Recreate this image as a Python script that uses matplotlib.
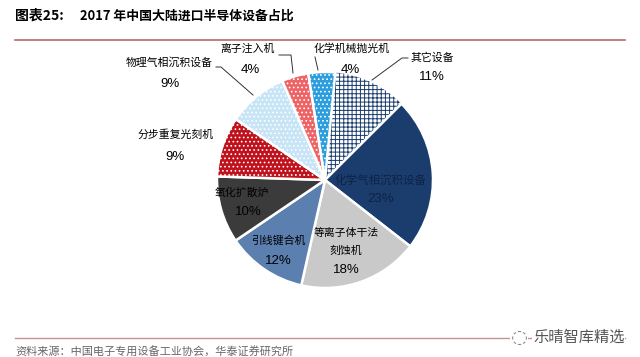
import matplotlib.pyplot as plt

plt.rcParams['font.family'] = ['Noto Sans CJK SC', 'DejaVu Sans']
plt.rcParams['hatch.linewidth'] = 0.7

# 数据
labels = ['其它设备', '化学气相沉积设备', '等离子体干法\n刻蚀机', '引线键合机', '氧化扩散炉',
          '分步重复光刻机', '物理气相沉积设备', '离子注入机', '化学机械抛光机']
values = [11, 23, 18, 12, 10, 9, 9, 4, 4]
colors = ['white', '#1B3D6D', '#C9C9C9', '#5B80B0', '#3B3B3B',
          '#C0121D', '#C7E5F6', '#EE6466', '#2C9EDD']
hatches = ['++++', None, None, None, None, '....', '....', '....', '....']

fig = plt.figure(figsize=(6.4, 3.57), dpi=100)
ax = fig.add_axes([0, 0, 1, 1])

wedges, _ = ax.pie(values, colors=colors, startangle=84.5, counterclock=False,
                   center=(325, 177), radius=108, frame=True,
                   wedgeprops=dict(edgecolor='white', linewidth=1.8))
ax.set_xlim(0, 640)
ax.set_ylim(0, 357)
ax.set_aspect('equal')
ax.axis('off')
for w, h in zip(wedges, hatches):
    if h == '++++':
        w.set_hatch(h)
        w.set_edgecolor('#1B3D6D')
        w.set_linewidth(0)
    elif h:
        w.set_hatch(h)

pct = ['Liberation Sans', 'DejaVu Sans']

# 扇区内标签
ax.text(381, 177, '化学气相沉积设备', fontsize=8.3, color='#0E2244', ha='center', va='center')
ax.text(381, 158, '23%', fontsize=9.5, family=pct, color='#0E2244', ha='center', va='center')
ax.text(346, 124, '等离子体干法', fontsize=7.8, ha='center', va='center')
ax.text(346, 106, '刻蚀机', fontsize=7.8, ha='center', va='center')
ax.text(346, 87, '18%', fontsize=9.5, family=pct, ha='center', va='center')
ax.text(278, 116, '引线键合机', fontsize=7.8, ha='center', va='center')
ax.text(278, 96, '12%', fontsize=9.5, family=pct, ha='center', va='center')
ax.text(242, 164, '氧化扩散炉', fontsize=7.8, ha='center', va='center')
ax.text(248, 145, '10%', fontsize=9.5, family=pct, ha='center', va='center')

# 扇区外标签
ax.text(176, 222, '分步重复光刻机', fontsize=7.8, ha='center', va='center')
ax.text(175, 200, '9%', fontsize=9.5, family=pct, ha='center', va='center')
ax.text(169, 295, '物理气相沉积设备', fontsize=7.8, ha='center', va='center')
ax.text(170, 273, '9%', fontsize=9.5, family=pct, ha='center', va='center')
ax.text(248, 308, '离子注入机', fontsize=7.8, ha='center', va='center')
ax.text(250, 287, '4%', fontsize=9.5, family=pct, ha='center', va='center')
ax.text(352, 308, '化学机械抛光机', fontsize=7.8, ha='center', va='center')
ax.text(350, 287, '4%', fontsize=9.5, family=pct, ha='center', va='center')
ax.text(432, 300, '其它设备', fontsize=7.8, ha='center', va='center')
ax.text(432, 280, '11%', fontsize=9.5, family=pct, ha='center', va='center')

# 引线
ax.plot([216, 221, 253], [290, 290, 262], color='#333333', lw=0.7)
ax.plot([279, 291, 293], [302, 302, 284], color='#333333', lw=0.7)
ax.plot([315, 318], [300, 287], color='#333333', lw=0.7)
ax.plot([408, 402, 372], [299, 299, 277], color='#333333', lw=0.7)

# 标题与来源
fig.text(15 / 640, 1 - 16 / 357, '图表25:', fontsize=10, fontweight='bold', va='center')
fig.text(80 / 640, 1 - 16 / 357, '2017 年中国大陆进口半导体设备占比', fontsize=9.3,
         fontweight='bold', va='center')
ax.plot([15, 625], [357 - 40, 357 - 40], color='#B56A6A', lw=1.2)
ax.plot([15, 625], [357 - 338, 357 - 338], color='#C99393', lw=1)
ax.text(15, 357 - 351, '资料来源：中国电子专用设备工业协会，华泰证券研究所', fontsize=8,
        color='#666666', va='center')
ax.text(533, 357 - 337, '乐晴智库精选', fontsize=11, color='#555555', va='center',
        bbox=dict(facecolor='white', edgecolor='none', pad=0.5))
ax.text(519, 357 - 337, '◌', fontsize=14, color='#888888', ha='center', va='center',
        family=['DejaVu Sans'], bbox=dict(facecolor='white', edgecolor='none', pad=0.5))

fig.savefig('out.png', dpi=100)
